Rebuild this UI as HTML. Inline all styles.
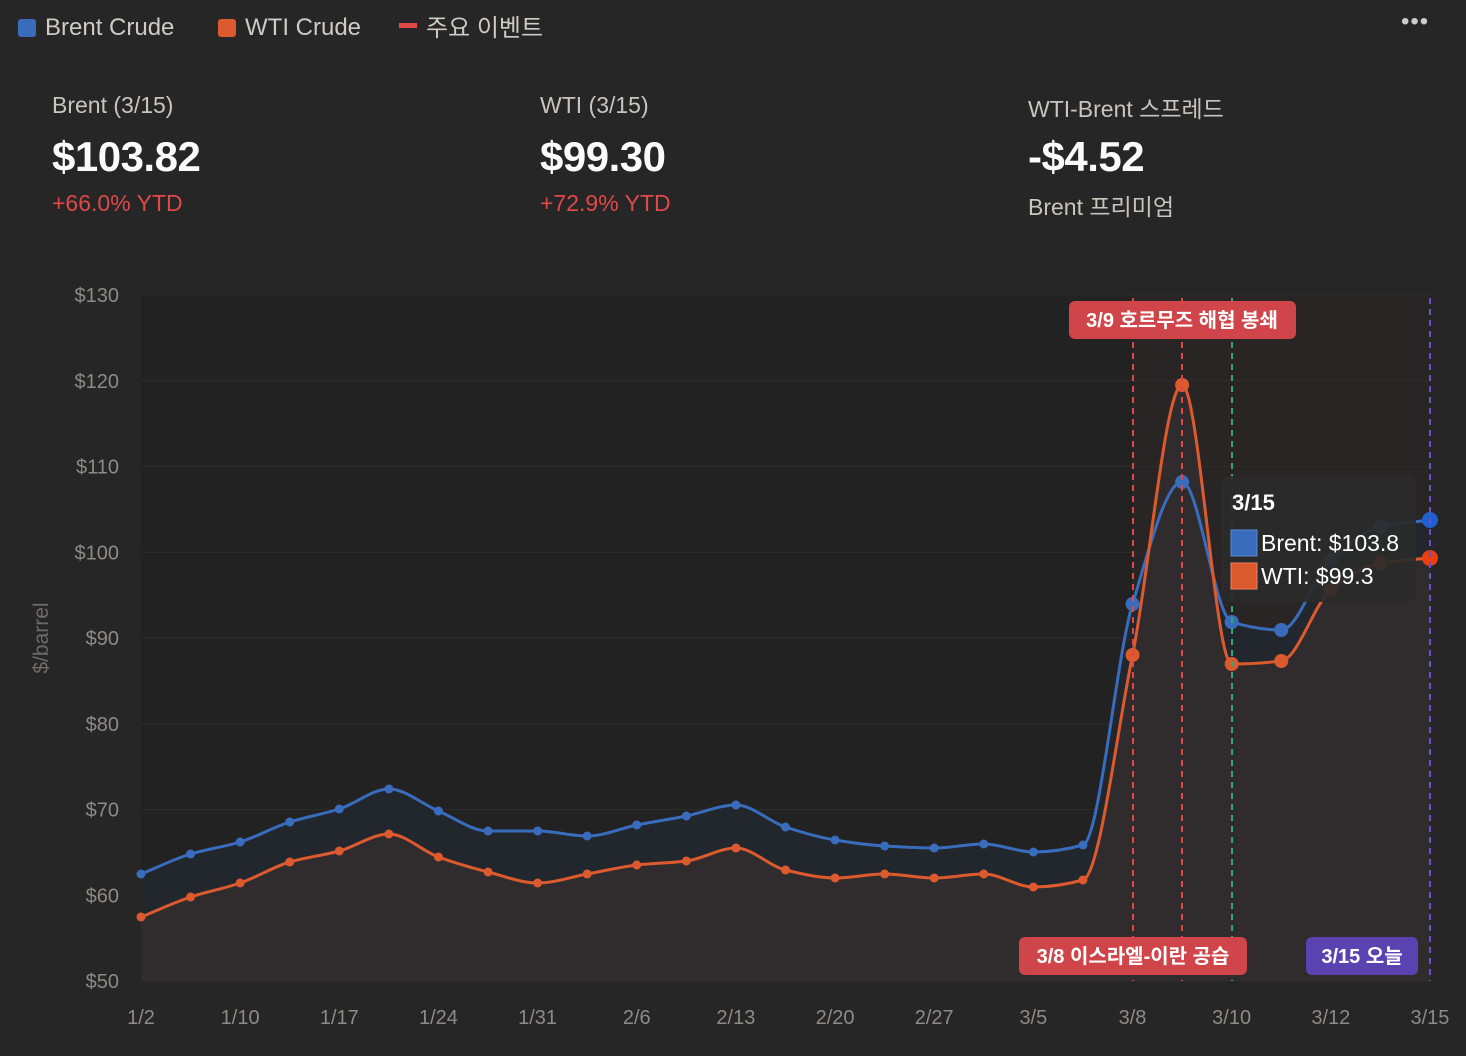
<!DOCTYPE html>
<html><head><meta charset="utf-8"><style>
body{margin:0;width:1466px;height:1056px;background:#262626;font-family:"Liberation Sans","Noto Sans CJK KR",sans-serif;overflow:hidden;position:relative;color:#ddd}
.lg{position:absolute;top:14px;font-size:24px;color:#cfcac4;display:flex;align-items:center;height:28px}
.sq{width:18px;height:18px;border-radius:3px;display:inline-block;margin-right:9px}
.k{position:absolute;font-size:23px;color:#c9c4bd}
.v{position:absolute;font-size:42px;font-weight:bold;color:#fafafa;letter-spacing:-0.5px}
.s{position:absolute;font-size:23px}
</style></head><body>
<div class="lg" style="left:18px"><span class="sq" style="background:#3a6cbd"></span>Brent Crude</div>
<div class="lg" style="left:218px"><span class="sq" style="background:#dd5a2e"></span>WTI Crude</div>
<div class="lg" style="left:399px;top:11px"><span style="width:18px;height:5px;background:#e04848;display:inline-block;margin-right:9px"></span>주요 이벤트</div>
<div style="position:absolute;left:1401px;top:8px;font-size:24px;color:#ccc;letter-spacing:1px">•••</div>
<div class="k" style="left:52px;top:92px">Brent (3/15)</div>
<div class="v" style="left:52px;top:133px">$103.82</div>
<div class="s" style="left:52px;top:190px;color:#e04848">+66.0% YTD</div>
<div class="k" style="left:540px;top:92px">WTI (3/15)</div>
<div class="v" style="left:540px;top:133px">$99.30</div>
<div class="s" style="left:540px;top:190px;color:#e04848">+72.9% YTD</div>
<div class="k" style="left:1028px;top:90px">WTI-Brent 스프레드</div>
<div class="v" style="left:1028px;top:133px">-$4.52</div>
<div class="s" style="left:1028px;top:188px;color:#c9c4bd">Brent 프리미엄</div>
<svg id="c" width="1466" height="1056" style="position:absolute;left:0;top:0"></svg>
<script>
const X=i=>141+i*49.577;
const B=[874,854,842,822,809,789,811,831,831,836,825,816,805,827,840,846,848,844,852,845,604,482,622,630,560,527,520];
const W=[917,897,883,862,851,834,857,872,883,874,865,861,848,870,878,874,878,874,887,880,655,385,664,661,590,563,558];
function path(Y){const n=Y.length,h=49.577,d=[],m=[];
for(let i=0;i<n-1;i++)d.push((Y[i+1]-Y[i])/h);
m[0]=d[0];m[n-1]=d[n-2];
for(let i=1;i<n-1;i++){if(d[i-1]*d[i]<=0)m[i]=0;else m[i]=2/(1/d[i-1]+1/d[i]);}
let s=`M${X(0)},${Y[0]}`;
for(let i=0;i<n-1;i++){const x0=X(i),x1=X(i+1);s+=` C${x0+h/3},${Y[i]+m[i]*h/3} ${x1-h/3},${Y[i+1]-m[i+1]*h/3} ${x1},${Y[i+1]}`;}
return s;}
let s='';
s+=`<rect x="141" y="295" width="1289" height="686" fill="#222"/>`;
s+=`<rect x="1133" y="295" width="297" height="686" fill="#2e2626" opacity="0.7"/>`;
for(let v=50;v<=130;v+=10){const y=981-(v-50)*8.575;s+=`<line x1="141" x2="1430" y1="${y}" y2="${y}" stroke="#2c2c2c"/>`;s+=`<text x="119" y="${y+7}" text-anchor="end" font-size="20" fill="#8e8a85">$${v}</text>`;}
const pb=path(B),pw=path(W);
s+=`<path d="${pb} L1430,981 L141,981Z" fill="#22272e"/>`;
s+=`<path d="${pw} L1430,981 L141,981Z" fill="#302c2d"/>`;
s+=`<path d="${pb}" fill="none" stroke="#3a6cbd" stroke-width="3"/>`;
s+=`<path d="${pw}" fill="none" stroke="#dd5a2e" stroke-width="3"/>`;
B.forEach((y,i)=>{const r=i>=20?7:4.5;s+=`<circle cx="${X(i)}" cy="${y}" r="${i==26?8:r}" fill="${i==26?'#1f5fd0':'#3a6cbd'}"/>`});
W.forEach((y,i)=>{const r=i>=20?7:4.5;s+=`<circle cx="${X(i)}" cy="${W[i]}" r="${i==26?8:r}" fill="${i==26?'#ee3e10':'#dd5a2e'}"/>`});
[[1133,'#e04848'],[1182,'#e04848'],[1232,'#2aa876'],[1430,'#6a4fd0']].forEach(([x,c])=>s+=`<line x1="${x}" x2="${x}" y1="298" y2="981" stroke="${c}" stroke-width="2" stroke-dasharray="6,5"/>`);
s+=`<rect x="1069" y="301" width="227" height="38" rx="6" fill="#d0454a"/><text x="1182" y="327" text-anchor="middle" font-size="20" font-weight="bold" fill="#fff">3/9 호르무즈 해협 봉쇄</text>`;
s+=`<rect x="1019" y="937" width="228" height="38" rx="6" fill="#d0454a"/><text x="1133" y="963" text-anchor="middle" font-size="20" font-weight="bold" fill="#fff">3/8 이스라엘-이란 공습</text>`;
s+=`<rect x="1306" y="937" width="112" height="38" rx="6" fill="#5a43b0"/><text x="1362" y="963" text-anchor="middle" font-size="20" font-weight="bold" fill="#fff">3/15 오늘</text>`;
s+=`<rect x="1221" y="476" width="195" height="126" rx="8" fill="#2a2a2a" opacity="0.92"/>`;
s+=`<text x="1232" y="510" font-size="22" font-weight="bold" fill="#fff">3/15</text>`;
s+=`<rect x="1231" y="530" width="26" height="26" fill="#3a6cbd" stroke="#5a86d0"/><text x="1261" y="551" font-size="23" fill="#fff">Brent: $103.8</text>`;
s+=`<rect x="1231" y="563" width="26" height="26" fill="#dd5a2e" stroke="#f08060"/><text x="1261" y="584" font-size="23" fill="#fff">WTI: $99.3</text>`;
const L=['1/2','1/10','1/17','1/24','1/31','2/6','2/13','2/20','2/27','3/5','3/8','3/10','3/12','3/15'];
L.forEach((t,i)=>{const x=141+i*99.15;s+=`<text x="${x}" y="1024" text-anchor="middle" font-size="20" fill="#8e8a85">${t}</text>`});
s+=`<text x="48" y="638" transform="rotate(-90 48 638)" text-anchor="middle" font-size="21" fill="#6e6a66">$/barrel</text>`;
document.getElementById('c').innerHTML=s;
</script>
</body></html>
